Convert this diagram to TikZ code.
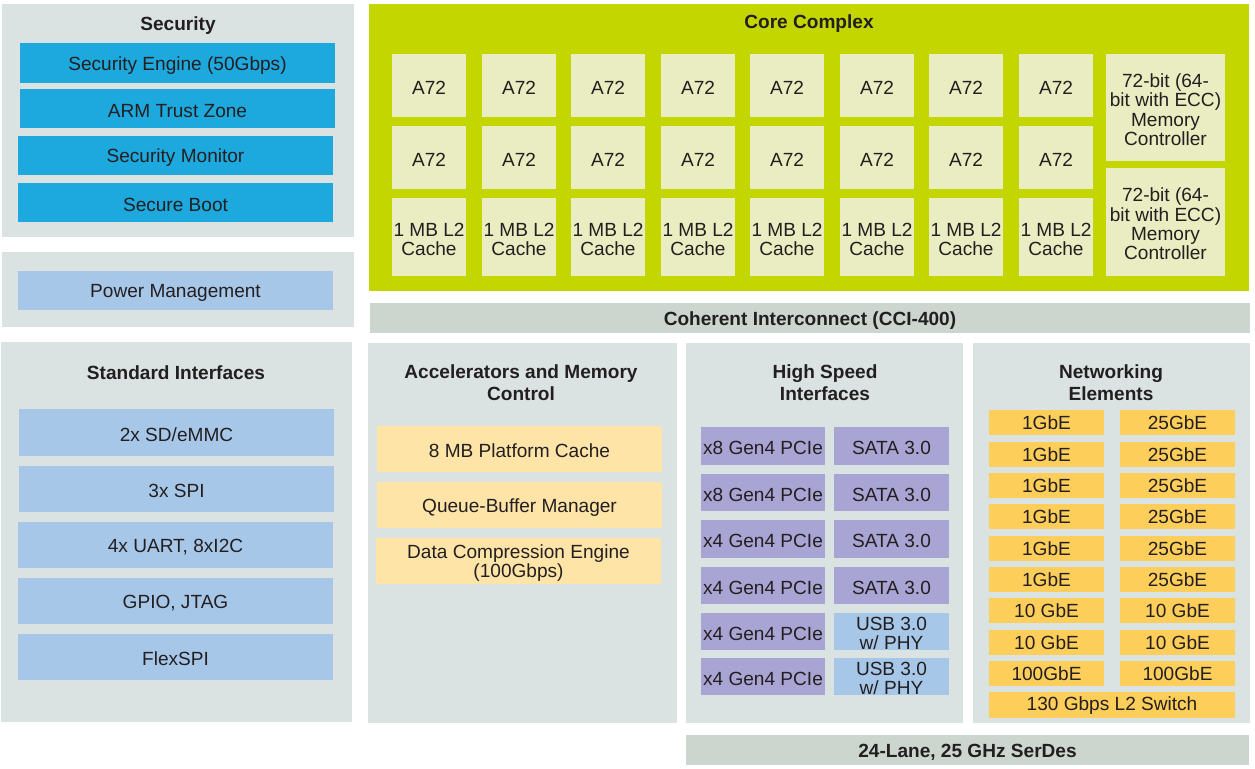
\documentclass[tikz,border=0pt]{standalone}
\usepackage{fontspec}
\setmainfont{Liberation Sans}
\definecolor{panelgray}{RGB}{219,227,226}
\definecolor{barGray}{RGB}{204,214,206}
\definecolor{secblue}{RGB}{29,168,222}
\definecolor{lightblue}{RGB}{167,199,233}
\definecolor{coregreen}{RGB}{196,214,0}
\definecolor{corecell}{RGB}{233,237,193}
\definecolor{peach}{RGB}{255,228,168}
\definecolor{purplebox}{RGB}{168,164,211}
\definecolor{netyellow}{RGB}{254,206,90}
\definecolor{txt}{RGB}{35,31,32}
\tikzset{
  base/.style={inner sep=0pt, outer sep=0pt, text=txt, align=center,
    font=\fontsize{14.3}{14.5}\selectfont},
  panel/.style={base, fill=panelgray},
  bar/.style={base, fill=barGray, font=\bfseries\fontsize{14.3}{14.5}\selectfont},
  secbox/.style={base, fill=secblue},
  lbbox/.style={base, fill=lightblue},
  corebg/.style={base, fill=coregreen},
  cellbox/.style={base, fill=corecell},
  accbox/.style={base, fill=peach},
  pcibox/.style={base, fill=purplebox},
  netbox/.style={base, fill=netyellow},
  ttl/.style={base, font=\bfseries\fontsize{14.3}{16.5}\selectfont},
}
\def\tshift{1.6pt}
% \bx{name}{style}{x1}{y1}{x2}{y2}{text}
\newcommand{\bx}[7]{%
  \node[#2, minimum width={(#5-#3)*0.75pt}, minimum height={(#6-#4)*0.75pt}] (#1) at ({(#3+#5)/2},{(#4+#6)/2}) {};%
  \node[#2, fill=none] (#1-t) at ([yshift=-\tshift]#1.center) {#7};}
\begin{document}
\begin{tikzpicture}[x=0.75pt, y=-0.75pt]
\useasboundingbox[fill=white] (0,0) rectangle (1255,768);

% ---------- Security ----------
\bx{secpanel}{panel}{2}{4}{354}{237}{}
\node[ttl] (sectitle) at (178,26) {Security};
\bx{seceng}{secbox}{20}{43}{335}{83}{Security Engine (50Gbps)}
\bx{armtz}{secbox}{20}{89}{335}{128}{ARM Trust Zone}
\bx{secmon}{secbox}{18}{136}{333}{175}{Security Monitor}
\bx{secboot}{secbox}{18}{183}{333}{222}{Secure Boot}

% ---------- Power ----------
\bx{powpanel}{panel}{2}{252}{354}{327}{}
\bx{powman}{lbbox}{18}{271}{333}{310}{Power Management}

% ---------- Standard Interfaces ----------
\bx{stdpanel}{panel}{1}{342}{352}{722}{}
\node[ttl] (stdtitle) at (176,373) {Standard Interfaces};
\bx{sdemmc}{lbbox}{19}{409}{334}{456}{2x SD/eMMC}
\bx{spi}{lbbox}{19}{466}{334}{512}{3x SPI}
\bx{uart}{lbbox}{18}{522}{333}{568}{4x UART, 8xI2C}
\bx{gpio}{lbbox}{18}{578}{333}{624}{GPIO, JTAG}
\bx{flexspi}{lbbox}{18}{634}{333}{680}{FlexSPI}

% ---------- Core Complex ----------
\bx{core}{corebg}{369}{4}{1249}{291}{}
\node[ttl] (coretitle) at (809,24) {Core Complex};
\foreach \i/\xa in {1/392,2/482,3/571,4/661,5/750,6/840,7/929,8/1019}{
  \bx{cpuA\i}{cellbox}{\xa}{54}{\xa+74}{117}{A72}
  \bx{cpuB\i}{cellbox}{\xa}{126}{\xa+74}{189}{A72}
  \bx{ltwo\i}{cellbox}{\xa}{198}{\xa+74}{276}{1 MB L2\\Cache}
}
\bx{memA}{cellbox}{1106}{54}{1225}{161}{72-bit (64-\\bit with ECC)\\Memory\\Controller}
\bx{memB}{cellbox}{1106}{168}{1225}{276}{72-bit (64-\\bit with ECC)\\Memory\\Controller}

% ---------- Coherent Interconnect ----------
\bx{cci}{bar}{370}{303}{1250}{333}{Coherent Interconnect (CCI-400)}

% ---------- Accelerators ----------
\bx{accpanel}{panel}{368}{343}{677}{723}{}
\node[ttl] (acctitle) at (521,383) {Accelerators and Memory\\Control};
\bx{pcache}{accbox}{377}{426}{662}{472}{8 MB Platform Cache}
\bx{qbman}{accbox}{377}{482}{662}{528}{Queue-Buffer Manager}
\bx{dce}{accbox}{376}{538}{661}{584}{Data Compression Engine\\(100Gbps)}

% ---------- High Speed Interfaces ----------
\bx{hspanel}{panel}{686}{343}{963}{723}{}
\node[ttl] (hstitle) at (825,383) {High Speed\\Interfaces};
\bx{pcieA}{pcibox}{701}{427}{825}{465}{x8 Gen4 PCIe}
\bx{pcieB}{pcibox}{701}{474}{825}{511}{x8 Gen4 PCIe}
\bx{pcieC}{pcibox}{701}{520}{825}{558}{x4 Gen4 PCIe}
\bx{pcieD}{pcibox}{701}{567}{825}{604}{x4 Gen4 PCIe}
\bx{pcieE}{pcibox}{701}{613}{825}{650}{x4 Gen4 PCIe}
\bx{pcieF}{pcibox}{701}{658}{825}{695}{x4 Gen4 PCIe}
\bx{sataA}{pcibox}{834}{427}{949}{465}{SATA 3.0}
\bx{sataB}{pcibox}{834}{474}{949}{511}{SATA 3.0}
\bx{sataC}{pcibox}{834}{520}{949}{558}{\raisebox{-2.5pt}{SATA 3.0}}
\bx{sataD}{pcibox}{834}{567}{949}{604}{\raisebox{-2.5pt}{SATA 3.0}}
\bx{usbA}{lbbox}{834}{613}{949}{650}{USB 3.0\\w/ PHY}
\bx{usbB}{lbbox}{834}{658}{949}{695}{USB 3.0\\w/ PHY}

% ---------- Networking ----------
\bx{netpanel}{panel}{973}{343}{1250}{723}{}
\node[ttl] (nettitle) at (1111,383) {Networking\\Elements};
\def\tshift{0.3pt}
\foreach \j/\ya/\ta/\tb in {1/410/1GbE/25GbE,2/442/1GbE/25GbE,3/473/1GbE/25GbE,4/504/1GbE/25GbE,5/536/1GbE/25GbE,6/567/1GbE/25GbE,7/598/10 GbE/10 GbE,8/630/10 GbE/10 GbE,9/661/100GbE/100GbE}{
  \bx{netL\j}{netbox}{989}{\ya}{1104}{\ya+25}{\ta}
  \bx{netR\j}{netbox}{1120}{\ya}{1235}{\ya+25}{\tb}
}
\bx{ltsw}{netbox}{989}{692}{1235}{718}{130 Gbps L2 Switch}

% ---------- SerDes ----------
\def\tshift{1.6pt}
\bx{serdes}{bar}{686}{735}{1249}{765}{24-Lane, 25 GHz SerDes}
\end{tikzpicture}
\end{document}
